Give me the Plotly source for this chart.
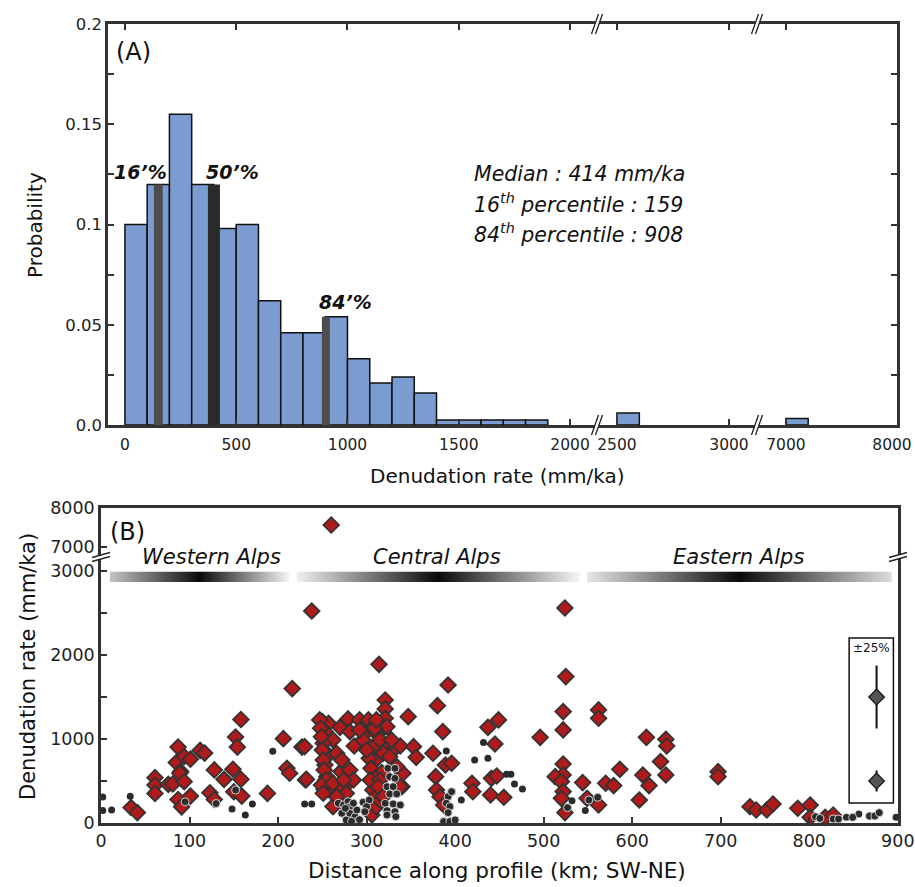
import plotly.graph_objects as go

W, H = 915, 887
FONT = "DejaVu Sans, Liberation Sans, Arial, sans-serif"


def X(p):
    return p / W


def Y(p):
    return 1 - p / H


# ---------------- Panel A data ----------------
bin_left = [0, 100, 200, 300, 400, 500, 600, 700, 800, 900, 1000, 1100, 1200, 1300,
            1400, 1500, 1600, 1700, 1800]
prob = [0.100, 0.120, 0.155, 0.120, 0.098, 0.100, 0.062, 0.046, 0.046, 0.054, 0.033,
        0.021, 0.024, 0.016, 0.0025, 0.0025, 0.0025, 0.0025, 0.0025]
mid_bin_left = [2500]
mid_prob = [0.006]
far_bin_left = [7000]
far_prob = [0.0033]
pct_names = ["16’%", "50’%", "84’%"]
pct_pos = [150, 400, 903]
pct_width = [40, 54, 36]
pct_height = [0.12, 0.12, 0.054]
pct_colors = ["#4d4d4d", "#2a2a2a", "#4d4d4d"]
stats_lines = ["Median : 414 mm/ka",
               "16<sup>th</sup> percentile : 159",
               "84<sup>th</sup> percentile : 908"]

# ---------------- Panel B data ----------------
dia_km = [34, 41, 61, 61, 61, 76, 81, 87, 85, 90, 89, 94, 101, 94, 87, 91, 101, 112, 117, 128,
          139, 123, 128, 149, 158, 152, 154, 158, 150, 159, 188, 206, 216, 227, 210, 213, 231,
          314, 392, 380, 321, 321, 321, 347, 386, 230, 232, 250, 257, 253, 262, 251, 270, 279,
          281, 292, 302, 298, 306, 312, 286, 308, 324, 332, 338, 353, 356, 375, 312, 303, 257,
          253, 271, 255, 277, 270, 252, 262, 305, 317, 310, 340, 307, 311, 322, 306, 262, 274,
          378, 389, 396, 379, 383, 387, 419, 420,
          247, 248, 249, 250, 251, 252, 254, 249, 251, 266, 272, 281, 285, 277, 266, 262, 274,
          296, 300, 315, 319, 326, 304, 315, 338, 341, 334, 313, 328, 323, 311, 315, 319, 292,
          309, 311,
          525, 522, 522, 562, 562, 496, 437, 449, 445, 616, 638, 639, 632, 638, 586, 612, 619,
          608, 570, 579, 544, 522, 522, 513, 520, 522, 520, 524, 562, 549, 441, 447, 440, 455,
          697, 697, 733, 740, 752, 759, 787, 801, 801, 818, 827,
          238, 524]
dia_rate = [184, 124, 540, 452, 352, 460, 464, 904, 720, 612, 592, 792, 760, 492, 280, 192, 320,
            864, 832, 632, 520, 360, 280, 640, 520, 1024, 904, 1232, 372, 320, 352, 1004, 1600,
            904, 652, 592, 512,
            1889, 1643, 1397, 1465, 1358, 1246, 1266, 1088, 909, 520, 1207, 1187, 1088, 989, 949,
            1139, 1239, 1088, 1227, 1227, 1068, 1128, 1056, 917, 909, 909, 889, 917, 909, 782,
            830, 770, 770, 810, 691, 612, 552, 453, 453, 401, 354, 651, 600, 532, 433, 393, 314,
            393, 96, 195, 235, 552, 691, 711, 393, 314, 215, 473, 373,
            1227, 1128, 1028, 869, 750, 631, 512, 453, 354, 830, 750, 631, 512, 354, 314, 473,
            512, 989, 869, 989, 830, 790, 512, 512, 433, 592, 671, 433, 989, 1147, 195, 274, 314,
            1108, 1128, 1227,
            1743, 1326, 1108, 1346, 1247, 1020, 1139, 1227, 941, 1020, 996, 917, 731, 572, 639,
            572, 445, 274, 473, 445, 481, 703, 572, 552, 493, 374, 294, 124, 215, 294, 532, 560,
            334, 306,
            611, 552, 194, 155, 155, 226, 175, 214, 67, 67, 95,
            2524, 2560]
high_km = [260]
high_rate = [7564]

dot_km = [2, 2, 12, 33, 148, 163, 171, 194, 230, 238, 390, 422, 407, 432, 437, 458, 463, 467,
          476, 532, 547, 842, 856, 898]
dot_rate = [310, 150, 155, 317, 167, 95, 226, 853, 227, 227, 858, 750, 274, 957, 770, 580, 580,
            465, 405, 266, 148, 67, 107, 67]
ring_km = [95, 130, 152, 268, 274, 279, 281, 272, 281, 287, 289, 276, 285, 277, 296, 303, 300,
           298, 324, 332, 326, 332, 323, 330, 326, 334, 321, 330, 338, 323, 332, 323, 333, 392,
           396, 390, 394, 392, 387, 394, 400, 283, 292, 527, 551, 561,
           807, 812, 827, 833, 849, 868, 874, 879]
ring_rate = [252, 232, 392, 235, 215, 255, 195, 116, 116, 76, 155, 175, 235, 36, 247, 274, 195,
             135, 651, 651, 552, 532, 433, 433, 346, 346, 235, 227, 215, 147, 135, 96, 76, 314,
             373, 235, 195, 123, 17, 17, 36, 20, 40, 183, 274, 306,
             75, 55, 48, 48, 67, 83, 83, 123]

regions = ["Western Alps", "Central Alps", "Eastern Alps"]
region_start = [10, 221, 549]
region_end = [213, 541, 893]
region_scales = [
    [[0, "#c4c4c4"], [0.5, "#0a0a0a"], [1, "#f6f6f6"]],
    [[0, "#f0f0f0"], [0.5, "#0a0a0a"], [1, "#f6f6f6"]],
    [[0, "#e6e6e6"], [0.5, "#0a0a0a"], [1, "#dcdcdc"]],
]
band_bottom, band_top = 2870, 2990

err_km = [876, 876]
err_rate = [1500, 500]
err_half = [375, 125]

# ---------------- Figure ----------------
fig = go.Figure()

bar_style = dict(color="#7b9cd0", line=dict(color="#111111", width=1.5))
fig.add_trace(go.Bar(x=[b + 50 for b in bin_left], y=prob, width=100, marker=bar_style,
                     xaxis="x", yaxis="y", hoverinfo="skip"))
fig.add_trace(go.Bar(x=[b + 50 for b in mid_bin_left], y=mid_prob, width=100, marker=bar_style,
                     xaxis="x2", yaxis="y", hoverinfo="skip"))
fig.add_trace(go.Bar(x=[b + 100 for b in far_bin_left], y=far_prob, width=200, marker=bar_style,
                     xaxis="x3", yaxis="y", hoverinfo="skip"))
fig.add_trace(go.Bar(x=pct_pos, y=pct_height, width=pct_width,
                     marker=dict(color=pct_colors, line=dict(width=0)),
                     xaxis="x", yaxis="y", hoverinfo="skip"))
# dummy trace for the right-hand axis of panel A
fig.add_trace(go.Scatter(x=[7500], y=[0.1], mode="markers", marker=dict(opacity=0),
                         xaxis="x3", yaxis="y2", hoverinfo="skip"))

# gradient region bands
for name, s, e, cs in zip(regions, region_start, region_end, region_scales):
    fig.add_trace(go.Scatter(x=[s, e, e, s, s], y=[band_bottom, band_bottom, band_top, band_top, band_bottom],
                             mode="lines", fill="toself", line=dict(width=0),
                             fillgradient=dict(type="horizontal", colorscale=cs),
                             xaxis="x4", yaxis="y3", hoverinfo="skip"))

dia_marker = dict(symbol="diamond", size=12, color="#b01a1a", line=dict(color="#333333", width=1.8))
fig.add_trace(go.Scatter(x=dia_km, y=dia_rate, mode="markers", marker=dia_marker,
                         xaxis="x4", yaxis="y3", cliponaxis=False, hoverinfo="skip"))
fig.add_trace(go.Scatter(x=high_km, y=high_rate, mode="markers", marker=dia_marker,
                         xaxis="x5", yaxis="y4", cliponaxis=False, hoverinfo="skip"))
fig.add_trace(go.Scatter(x=dot_km, y=dot_rate, mode="markers",
                         marker=dict(symbol="circle", size=7, color="#2b2b2b", line=dict(width=0)),
                         xaxis="x4", yaxis="y3", cliponaxis=False, hoverinfo="skip"))
fig.add_trace(go.Scatter(x=ring_km, y=ring_rate, mode="markers",
                         marker=dict(symbol="circle", size=8, color="#2b2b2b",
                                     line=dict(color="#cfcfcf", width=1)),
                         xaxis="x4", yaxis="y3", cliponaxis=False, hoverinfo="skip"))
fig.add_trace(go.Scatter(x=err_km, y=err_rate, mode="markers",
                         marker=dict(symbol="diamond", size=12, color="#555555",
                                     line=dict(color="#111111", width=1.2)),
                         error_y=dict(type="data", array=err_half, width=0, thickness=2, color="#111111"),
                         xaxis="x4", yaxis="y3", hoverinfo="skip"))

ax = dict(showline=True, linecolor="#333333", linewidth=2.5, ticks="inside", ticklen=6,
          tickwidth=2, tickcolor="#333333", showgrid=False, zeroline=False, automargin=False,
          ticklabeloverflow="allow")
fA = dict(family=FONT, size=15.5, color="#222222")
fB = dict(family=FONT, size=17.5, color="#222222")

yA_vals = [0, 0.025, 0.05, 0.075, 0.1, 0.125, 0.15, 0.175, 0.2]
yA_text = ["0.0", " ", "0.05", " ", "0.1", " ", "0.15", " ", "0.2"]
NB = "\u00a0"

fig.update_layout(
    template="none",
    width=W, height=H, margin=dict(l=0, r=0, t=0, b=0, pad=0, autoexpand=False),
    paper_bgcolor="white", plot_bgcolor="white", showlegend=False, barmode="overlay",
    font=dict(family=FONT, color="#222222"),
    xaxis=dict(ax, domain=[X(108), X(595)], range=[-76, 2112], anchor="y", mirror="ticks",
               tickvals=[0, 500, 1000, 1500, 2000], tickfont=fA, ticklabelstandoff=4),
    xaxis2=dict(ax, domain=[X(599), X(755)], range=[2420, 3116], anchor="y", mirror="ticks",
                tickvals=[2500, 3000], tickfont=fA, ticklabelstandoff=4),
    xaxis3=dict(ax, domain=[X(759), X(897)], range=[6757, 8000.5], anchor="y", mirror="ticks",
                tickvals=[7000, 8000], ticktext=["7000", "8000" + NB * 2],
                tickfont=fA, ticklabelstandoff=4),
    yaxis=dict(ax, domain=[Y(425), Y(24)], range=[0, 0.2], anchor="x",
               tickvals=yA_vals, ticktext=yA_text, tickfont=dict(fA, size=16.5)),
    yaxis2=dict(ax, overlaying="y", anchor="x3", side="right", range=[0, 0.2],
                tickvals=yA_vals, showticklabels=False),
    xaxis4=dict(ax, domain=[X(101), X(898)], range=[0, 900.2], anchor="y3",
                tickvals=list(range(0, 901, 100)), tickfont=fB),
    yaxis3=dict(ax, domain=[Y(823), Y(559)], range=[0, 3143], anchor="x4", mirror=True,
                tickvals=[0, 500, 1000, 1500, 2000, 2500, 3000],
                ticktext=["0", " ", "1000", " ", "2000", " ", "3000"], tickfont=fB),
    xaxis5=dict(ax, domain=[X(101), X(898)], range=[0, 900.2], anchor="y4", side="top",
                ticks="", showticklabels=False),
    yaxis4=dict(ax, domain=[Y(555), Y(508)], range=[6795, 8000.5], anchor="x5", mirror=True,
                tickvals=[7000, 8000], tickfont=fB),
)

# break marks
shapes = []


def vbreak(cx, cy):
    for off in (-2, 2):
        shapes.append(dict(type="line", xref="paper", yref="paper",
                           x0=X(cx + off - 3.5), y0=Y(cy + 10), x1=X(cx + off + 3.5), y1=Y(cy - 10),
                           line=dict(color="#222222", width=1.3)))


def hbreak(cx, cy):
    for off in (-2, 2):
        shapes.append(dict(type="line", xref="paper", yref="paper",
                           x0=X(cx - 9), y0=Y(cy + off + 2.5), x1=X(cx + 9), y1=Y(cy + off - 2.5),
                           line=dict(color="#222222", width=1.3)))


for cx in (597, 757):
    for cy in (24, 425):
        vbreak(cx, cy)
for cx in (101, 898):
    hbreak(cx, 557)

shapes.append(dict(type="rect", xref="x4", yref="y3", x0=845, x1=895, y0=238, y1=2202,
                   line=dict(color="#111111", width=1.5), fillcolor="rgba(0,0,0,0)"))
fig.update_layout(shapes=shapes)

ann = []


def A(text, px, py, size, **kw):
    d = dict(text=text, x=X(px), y=Y(py), xref="paper", yref="paper", showarrow=False,
             xanchor="center", yanchor="middle",
             font=dict(family=FONT, size=size, color=kw.pop("color", "#111111")))
    d.update(kw)
    ann.append(d)


A("(A)", 133, 52, 24)
A("Probability", 35, 225, 20, textangle=-90)
A("Denudation rate (mm/ka)", 497, 476, 20)
pct_label_pos = [(140, 172), (232, 172), (345, 302)]
for t, (px, py) in zip(pct_names, pct_label_pos):
    A("<b><i>" + t + "</i></b>", px, py, 19)
for i, t in enumerate(stats_lines):
    A("<i>" + t + "</i>", 472, 174 + 29.5 * i, 20.5, xanchor="left")

A("(B)", 127, 532, 24)
region_centers = [211, 437, 738]
for t, c in zip(regions, region_centers):
    A("<i>" + t + "</i>", c, 557, 21)
A("Denudation rate (mm/ka)", 28, 667, 21, textangle=-90)
A("Distance along profile (km; SW-NE)", 497, 870, 21.5)
A("±25%", 871, 648, 12)

fig.update_layout(annotations=ann)

fig.write_html("out.html")
